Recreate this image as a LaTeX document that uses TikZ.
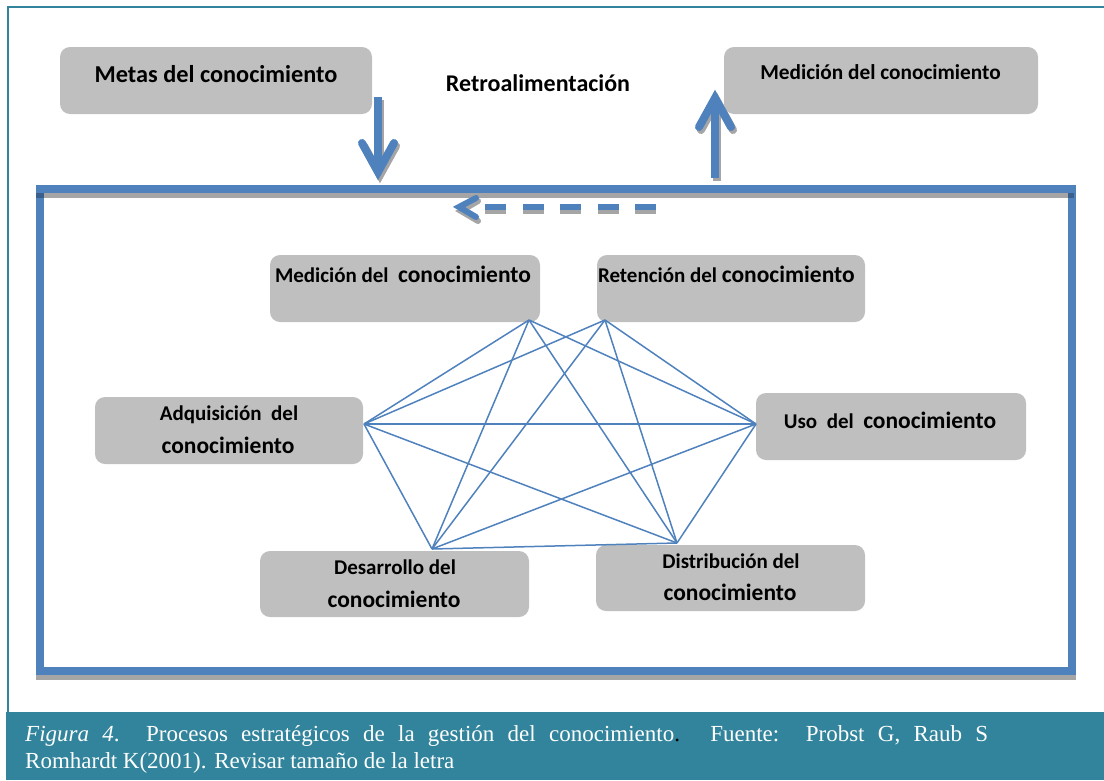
\documentclass[tikz,border=0pt]{standalone}
\usepackage{fontspec}
\setmainfont{Liberation Serif}
\newfontfamily\boxfont{Carlito}[BoldFont={Carlito Bold}]
\definecolor{kblue}{HTML}{4F81BD}
\definecolor{kdark}{HTML}{3A5F8C}
\definecolor{kgray}{HTML}{BFBFBF}
\definecolor{kshadow}{HTML}{A5A5A5}
\definecolor{kteal}{HTML}{31849B}
\newcommand{\fsm}{\fontsize{21}{25}\selectfont}
\newcommand{\fbg}{\fontsize{23.5}{28}\selectfont}
\begin{document}
\begin{tikzpicture}[x=1pt,y=-1pt,
  procbox/.style={fill=kgray,rounded corners=10pt,inner sep=0pt,outer sep=0pt,draw=none},
  lbl/.style={inner sep=0pt,outer sep=0pt,font=\boxfont\bfseries,text=black},
  link/.style={draw=kblue,line width=1.5pt},
  fatarrow/.style={draw=kblue,line width=8pt},
  fatshadow/.style={draw=kshadow,line width=8pt},
]
\useasboundingbox (0,0) rectangle (1104,780);

% page frame and caption band
\fill[kteal] (6,712) rectangle (1104,780);
\draw[kteal,line width=2.5pt] (8,713) -- (8,7) -- (1104,7);

% process boxes
\node[procbox,minimum width=312pt,minimum height=67pt] (metas)  at (216,80.5) {};
\node[procbox,minimum width=314pt,minimum height=67pt] (medtop) at (881,80.5) {};
\node[procbox,minimum width=270pt,minimum height=67pt] (medin)  at (405,288.5) {};
\node[procbox,minimum width=268pt,minimum height=67pt] (ret)    at (731,288.5) {};
\node[procbox,minimum width=268pt,minimum height=67pt] (adq)    at (229,430.5) {};
\node[procbox,minimum width=270pt,minimum height=67pt] (uso)    at (891,426.5) {};
\node[procbox,minimum width=269pt,minimum height=66pt] (des)    at (394.5,584) {};
\node[procbox,minimum width=269pt,minimum height=66pt] (dis)    at (730.5,578) {};

% labels
\node[lbl,anchor=base] (tmetas) at (216,82) {\fontsize{24.3}{29}\selectfont Metas del conocimiento};
\node[lbl,anchor=base] (tmedtop) at (880.5,79) {\fontsize{21.3}{25}\selectfont Medición del conocimiento};
\node[lbl,anchor=base] (tretro) at (538,91) {\fontsize{24}{29}\selectfont Retroalimentación};
\node[lbl,anchor=base west] (tmedin) at (275,282) {\fsm Medición del\ \ \fbg conocimiento};
\node[lbl,anchor=base west] (tret) at (598,282) {\fsm Retención del \fbg conocimiento};
\node[lbl,anchor=base] (tadq1) at (229,420) {\fsm Adquisición\ \ del};
\node[lbl,anchor=base] (tadq2) at (228,453) {\fbg conocimiento};
\node[lbl,anchor=base] (tuso) at (890,428) {\fsm Uso\ \ del\ \ \fbg conocimiento};
\node[lbl,anchor=base] (tdes1) at (395,574) {\fsm Desarrollo del};
\node[lbl,anchor=base] (tdes2) at (394,607) {\fbg conocimiento};
\node[lbl,anchor=base] (tdis1) at (731,568) {\fsm Distribución del};
\node[lbl,anchor=base] (tdis2) at (730,600) {\fbg conocimiento};

% main process frame with its drop shadow
\draw[kshadow,line width=8pt] (40,194) rectangle (1072,676);
\draw[kblue,line width=8pt] (40,189) rectangle (1072,671);
% darker spots where the shadow meets the side rules
\fill[kdark] (36,193) rectangle (44,198);
\fill[kdark] (1068,193) rectangle (1074,198);

% down arrow from the goals box into the frame
\coordinate (dnA) at (378,97);
\coordinate (dnB) at (378,171);
\draw[fatshadow] ([shift={(2,3)}]dnA) -- ([shift={(2,3)}]dnB);
\draw[fatshadow,line cap=round,miter limit=10] (364,146) -- (380,175) -- (396,146);
\draw[fatarrow] (dnA) -- (dnB);
\draw[fatarrow,line cap=round,miter limit=10] (362,143) -- (378,172) -- (394,143);

% up arrow from the frame to the measurement box
\coordinate (upA) at (715,178);
\coordinate (upB) at (715,104);
\draw[fatshadow] ([shift={(2,3)}]upA) -- ([shift={(2,3)}]upB);
\draw[fatshadow,line cap=round,miter limit=10] (701,130) -- (717,101) -- (733,130);
\draw[fatarrow] (upA) -- (upB);
\draw[fatarrow,line cap=round,miter limit=10] (699,127) -- (715,98) -- (731,127);

% dashed feedback arrow
\coordinate (fbA) at (656,207);
\coordinate (fbB) at (485,207);
\draw[kshadow,line width=6pt,dash pattern=on 21pt off 16.5pt] ([shift={(0,4)}]fbA) -- ([shift={(0,4)}]fbB);
\draw[kshadow,line width=6pt,line cap=round,miter limit=10] (478,201) -- (461,211) -- (478,221);
\draw[kblue,line width=6pt,dash pattern=on 21pt off 16.5pt] (fbA) -- (fbB);
\draw[kblue,line width=6pt,line cap=round,miter limit=10] (476,198) -- (459,207) -- (476,217);

% links between the six processes
\coordinate (pM) at (529,320);
\coordinate (pR) at (605,320);
\coordinate (pA) at (364,424);
\coordinate (pU) at (756,424);
\coordinate (pD) at (432,549);
\coordinate (pT) at (677,543);
\draw[link] (pM) -- (pA);
\draw[link] (pM) -- (pU);
\draw[link] (pM) -- (pD);
\draw[link] (pM) -- (pT);
\draw[link] (pR) -- (pA);
\draw[link] (pR) -- (pU);
\draw[link] (pR) -- (pD);
\draw[link] (pR) -- (pT);
\draw[link] (pA) -- (pU);
\draw[link] (pA) -- (pD);
\draw[link] (pA) -- (pT);
\draw[link] (pU) -- (pD);
\draw[link] (pU) -- (pT);
\draw[link] (pD) -- (pT);

% caption (first line justified across the band)
\node[inner sep=0pt,anchor=base west,text=white] (cap1) at (25,741)
  {\fontsize{23}{27}\selectfont\makebox[963pt][s]{\textit{Figura 4}.\ \ Procesos estratégicos de la gestión del conocimiento\textcolor{black}{.} Fuente:\ \ Probst G, Raub S}};
\node[inner sep=0pt,anchor=base west,text=white] (cap2) at (25,768)
  {\fontsize{23}{27}\selectfont Romhardt K(2001). Revisar tamaño de la letra};
\end{tikzpicture}
\end{document}
